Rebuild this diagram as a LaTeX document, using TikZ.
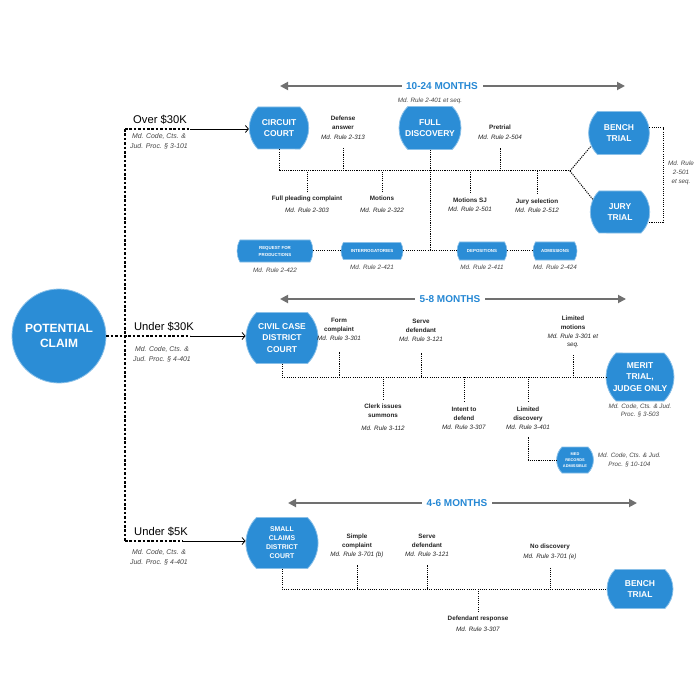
\documentclass[tikz,border=0pt]{standalone}
\usepackage{fontspec}
\setmainfont{Liberation Sans}
\usepackage{tikz}
\usetikzlibrary{positioning, arrows.meta, shapes.misc, calc}
\definecolor{courtblue}{RGB}{43,141,214}
\definecolor{monthblue}{RGB}{38,136,212}
\definecolor{spangray}{RGB}{112,112,112}
\definecolor{lblgray}{RGB}{35,35,35}

\tikzset{
  court/.style={rounded rectangle, rounded rectangle arc length=90, fill=courtblue,
    draw=courtblue!55!white, line width=0.8pt, text=white, align=center, inner sep=0pt,
    font=\fontsize{8.5}{11.5}\selectfont\bfseries},
  docbox/.style={rounded rectangle, rounded rectangle arc length=60, fill=courtblue,
    draw=courtblue!55!white, line width=0.6pt, text=white, align=center, inner sep=0pt,
    font=\fontsize{4.4}{7}\selectfont\bfseries},
  claimc/.style={circle, fill=courtblue, draw=courtblue!55!white, line width=0.8pt,
    minimum size=94pt, inner sep=0pt, text=white, align=center,
    font=\fontsize{12}{15.5}\selectfont\bfseries},
  lbl/.style={inner sep=0pt, text=lblgray, font=\fontsize{6.3}{8.8}\selectfont},
  rulelbl/.style={inner sep=0pt, text=lblgray!85, font=\fontsize{6.3}{8.8}\selectfont\itshape},
  codelbl/.style={inner sep=0pt, text=lblgray!85, font=\fontsize{6.9}{10}\selectfont\itshape},
  amount/.style={inner sep=0pt, text=black, font=\fontsize{11.2}{13}\selectfont},
  months/.style={inner sep=0pt, text=monthblue, font=\fontsize{10}{12}\selectfont\bfseries},
  span/.style={draw=spangray, line width=1.8pt, -{Triangle[length=8pt,width=8pt]}},
  tickline/.style={line width=1pt, dash pattern=on 1.1pt off 1.1pt},
  dashline/.style={line width=1.6pt, dash pattern=on 2.6pt off 1.8pt},
  tocourt/.style={line width=0.8pt, -{Straight Barb[length=3pt,width=7pt]}},
}

\begin{document}
\begin{tikzpicture}[x=1pt, y=-1pt]
\useasboundingbox (0,0) rectangle (700,700);

% ---- potential claim and amounts
\node[claimc] (claim) at (59,336) {POTENTIAL\\CLAIM};

\coordinate (jOver) at (125,129);
\coordinate (sOver) at (190,129);
\coordinate (jUnder) at (125,336);
\coordinate (sUnder) at (190,336);
\coordinate (jSmall) at (125,541);
\coordinate (sSmall) at (183,541);

\node[amount] (over) at (160,120) {Over \$30K};
\node[codelbl] (overC) at (159,142) {
    \begin{tabular}{@{}c@{}}
    Md. Code, Cts. \&\\
    Jud. Proc. § 3-101
    \end{tabular}
    };
\node[amount] (under30) at (164,327) {Under \$30K};
\node[codelbl] (under30C) at (162,354) {
    \begin{tabular}{@{}c@{}}
    Md. Code, Cts. \&\\
    Jud. Proc. § 4-401
    \end{tabular}
    };
\node[amount] (under5) at (161,532) {Under \$5K};
\node[codelbl] (under5C) at (159,557) {
    \begin{tabular}{@{}c@{}}
    Md. Code, Cts. \&\\
    Jud. Proc. § 4-401
    \end{tabular}
    };

% ---- courts
\node[court, minimum width=56pt, minimum height=42pt] (cc) at (279,128) {CIRCUIT\\COURT};
\node[court, minimum width=60pt, minimum height=51pt] (civil) at (282,338) {CIVIL CASE\\DISTRICT\\COURT};
\node[court, minimum width=62pt, minimum height=51pt,
      font=\fontsize{6.9}{9}\selectfont\bfseries] (small) at (282,543) {SMALL\\CLAIMS\\DISTRICT\\COURT};

\draw[dashline] (jOver) -- (jSmall);
\draw[dashline] (jOver) -- (sOver);
\draw[dashline] (claim.east) -- (sUnder);
\draw[dashline] (jSmall) -- (sSmall);
\draw[tocourt] (sOver) -- (sOver -| cc.west);
\draw[tocourt] (sUnder) -- (sUnder -| civil.west);
\draw[tocourt] (sSmall) -- (sSmall -| small.west);

% ---- circuit court, 10-24 months
\node[months] (m1) at (442,86) {10-24 MONTHS};
\coordinate (m1L) at (280,86);
\coordinate (m1R) at (625,86);
\draw[span] ([xshift=-4pt]m1.west) -- (m1L);
\draw[span] ([xshift=5pt]m1.east) -- (m1R);

\node[court, minimum width=62pt, minimum height=43pt] (fd) at (430,128) {FULL\\DISCOVERY};
\node[rulelbl, above=2pt of fd] (fdR) {Md. Rule 2-401 et seq.};
\node[court, minimum width=55pt, minimum height=43pt] (bench1) at (619,133) {BENCH\\TRIAL};
\node[court, minimum width=56pt, minimum height=42pt] (jury1) at (620,212) {JURY\\TRIAL};
\node[rulelbl] (trialR) at (681,173) {
    \begin{tabular}{@{}c@{}}
    Md. Rule\\
    2-501\\
    et seq.
    \end{tabular}
    };

\node[lbl] (defense) at (343,128) {
    \begin{tabular}{@{}c@{}}
    \textbf{Defense}\\
    \textbf{answer}\\[1pt]
    \textit{Md. Rule 2-313}
    \end{tabular}
    };
\node[lbl] (pretrial) at (500,133) {
    \begin{tabular}{@{}c@{}}
    \textbf{Pretrial}\\[1pt]
    \textit{Md. Rule 2-504}
    \end{tabular}
    };
\node[lbl] (fullpl) at (307,205) {
    \begin{tabular}{@{}c@{}}
    \textbf{Full pleading complaint}\\[3pt]
    \textit{Md. Rule 2-303}
    \end{tabular}
    };
\node[lbl] (motions) at (382,205) {
    \begin{tabular}{@{}c@{}}
    \textbf{Motions}\\[3pt]
    \textit{Md. Rule 2-322}
    \end{tabular}
    };
\node[lbl] (motionsSJ) at (470,205) {
    \begin{tabular}{@{}c@{}}
    \textbf{Motions SJ}\\
    \textit{Md. Rule 2-501}
    \end{tabular}
    };
\node[lbl] (jurysel) at (537,206) {
    \begin{tabular}{@{}c@{}}
    \textbf{Jury selection}\\
    \textit{Md. Rule 2-512}
    \end{tabular}
    };

\coordinate (fork) at (570,171);
\coordinate (brk) at (663,175);
\draw[tickline] (cc.south) |- (fork);
\draw[tickline, shorten <=6pt] (defense.south) -- (defense.south |- fork);
\draw[tickline, shorten <=6pt] (pretrial.south) -- (pretrial.south |- fork);
\draw[tickline, shorten <=2pt] (fullpl.north) -- (fullpl.north |- fork);
\draw[tickline, shorten <=2pt] (motions.north) -- (motions.north |- fork);
\draw[tickline, shorten <=3pt] (motionsSJ.north) -- (motionsSJ.north |- fork);
\draw[tickline, shorten <=3pt] (jurysel.north) -- (jurysel.north |- fork);
\draw[tickline] (fork) -- (bench1.205);
\draw[tickline] (fork) -- (jury1.155);
\draw[tickline] (bench1.10) -| (brk) |- (jury1.-20);

% discovery tools
\node[docbox, minimum width=76pt, minimum height=22pt] (rfp) at (275,251) {REQUEST FOR\\PRODUCTIONS};
\node[docbox, minimum width=62pt, minimum height=17pt] (intg) at (372,251) {INTERROGATORIES};
\node[docbox, minimum width=50pt, minimum height=18pt] (dep) at (482,251) {DEPOSITIONS};
\node[docbox, minimum width=44pt, minimum height=18pt] (adm) at (555,251) {ADMISSIONS};
\node[rulelbl, below=5pt of rfp] (rfpR) {Md. Rule 2-422};
\node[rulelbl, below=5pt of intg] (intgR) {Md. Rule 2-421};
\node[rulelbl, below=4pt of dep] (depR) {Md. Rule 2-411};
\node[rulelbl, below=4pt of adm] (admR) {Md. Rule 2-424};

\draw[tickline] (fd.south) -- (fd.south |- intg.east);
\draw[tickline] (rfp.east) -- (intg.west);
\draw[tickline] (intg.east) -- (dep.west);
\draw[tickline] (dep.east) -- (adm.west);

% ---- district court, 5-8 months
\node[months] (m2) at (450,299) {5-8 MONTHS};
\coordinate (m2L) at (280,299);
\coordinate (m2R) at (626,299);
\draw[span] ([xshift=-5pt]m2.west) -- (m2L);
\draw[span] ([xshift=5pt]m2.east) -- (m2R);

\node[court, minimum width=66pt, minimum height=48pt] (merit) at (640,377) {MERIT\\TRIAL,\\JUDGE ONLY};
\node[rulelbl, below=2pt of merit, align=center] (meritR) {Md. Code, Cts. \& Jud.\\Proc. § 3-503};

\node[lbl] (formc) at (339,330) {
    \begin{tabular}{@{}c@{}}
    \textbf{Form}\\
    \textbf{complaint}\\
    \textit{Md. Rule 3-301}
    \end{tabular}
    };
\node[lbl] (servd1) at (421,331) {
    \begin{tabular}{@{}c@{}}
    \textbf{Serve}\\
    \textbf{defendant}\\
    \textit{Md. Rule 3-121}
    \end{tabular}
    };
\node[lbl] (limmot) at (573,332) {
    \begin{tabular}{@{}c@{}}
    \textbf{Limited}\\
    \textbf{motions}\\
    \textit{Md. Rule 3-301 et}\\
    \textit{seq.}
    \end{tabular}
    };
\node[lbl] (clerk) at (383,418) {
    \begin{tabular}{@{}c@{}}
    \textbf{Clerk issues}\\
    \textbf{summons}\\[4pt]
    \textit{Md. Rule 3-112}
    \end{tabular}
    };
\node[lbl] (intent) at (464,419) {
    \begin{tabular}{@{}c@{}}
    \textbf{Intent to}\\
    \textbf{defend}\\
    \textit{Md. Rule 3-307}
    \end{tabular}
    };
\node[lbl] (limdisc) at (528,419) {
    \begin{tabular}{@{}c@{}}
    \textbf{Limited}\\
    \textbf{discovery}\\
    \textit{Md. Rule 3-401}
    \end{tabular}
    };

\node[court, minimum width=36pt, minimum height=26pt,
      font=\fontsize{3.9}{6}\selectfont\bfseries] (med) at (575,460) {MED\\RECORDS\\ADMISSIBLE};
\node[rulelbl, right=4pt of med, align=center] (medR) {Md. Code, Cts. \& Jud.\\Proc. § 10-104};

\draw[tickline] (civil.south) |- (merit.west);
\draw[tickline, shorten <=9pt] (formc.south) -- (formc.south |- merit.west);
\draw[tickline, shorten <=9pt] (servd1.south) -- (servd1.south |- merit.west);
\draw[tickline, shorten <=5pt] (limmot.south) -- (limmot.south |- merit.west);
\draw[tickline, shorten <=3pt] (clerk.north) -- (clerk.north |- merit.west);
\draw[tickline, shorten <=4pt] (intent.north) -- (intent.north |- merit.west);
\draw[tickline, shorten <=4pt] (limdisc.north) -- (limdisc.north |- merit.west);
\draw[tickline, shorten <=5pt] (limdisc.south) |- (med.west);

% ---- small claims, 4-6 months
\node[months] (m3) at (457,503) {4-6 MONTHS};
\coordinate (m3L) at (288,503);
\coordinate (m3R) at (637,503);
\draw[span] ([xshift=-5pt]m3.west) -- (m3L);
\draw[span] ([xshift=5pt]m3.east) -- (m3R);

\node[court, minimum width=66pt, minimum height=39pt] (bench2) at (640,589) {BENCH\\TRIAL};

\node[lbl] (simple) at (357,546) {
    \begin{tabular}{@{}c@{}}
    \textbf{Simple}\\
    \textbf{complaint}\\
    \textit{Md. Rule 3-701 (b)}
    \end{tabular}
    };
\node[lbl] (servd2) at (427,546) {
    \begin{tabular}{@{}c@{}}
    \textbf{Serve}\\
    \textbf{defendant}\\
    \textit{Md. Rule 3-121}
    \end{tabular}
    };
\node[lbl] (nodisc) at (550,552) {
    \begin{tabular}{@{}c@{}}
    \textbf{No discovery}\\[1pt]
    \textit{Md. Rule 3-701 (e)}
    \end{tabular}
    };
\node[lbl] (defresp) at (478,624) {
    \begin{tabular}{@{}c@{}}
    \textbf{Defendant response}\\[2pt]
    \textit{Md. Rule 3-307}
    \end{tabular}
    };

\draw[tickline] (small.south) |- (bench2.west);
\draw[tickline, shorten <=6pt] (simple.south) -- (simple.south |- bench2.west);
\draw[tickline, shorten <=6pt] (servd2.south) -- (servd2.south |- bench2.west);
\draw[tickline, shorten <=6pt] (nodisc.south) -- (nodisc.south |- bench2.west);
\draw[tickline, shorten <=2pt] (defresp.north) -- (defresp.north |- bench2.west);

\end{tikzpicture}
\end{document}
